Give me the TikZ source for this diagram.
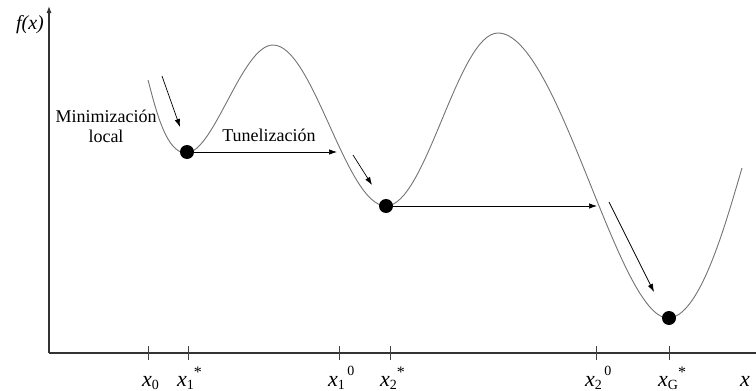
\documentclass[tikz,border=0pt]{standalone}
\usepackage{fontspec}
\setmainfont{Liberation Serif}
\usetikzlibrary{arrows.meta}
\newcommand\xsub[1]{\raisebox{-3pt}{\fontsize{14}{14}\selectfont #1}}
\newcommand\xstar{\raisebox{9pt}{\fontsize{16}{16}\selectfont *}}
\newcommand\xzero{\raisebox{11pt}{\fontsize{14}{14}\selectfont \,0}}
\newcommand\xlab[2]{\fontsize{22}{22}\selectfont\textit{x}\xsub{#1}#2}
\begin{document}
\begin{tikzpicture}[x=1pt,y=-1pt,
  curve/.style={draw=black!55, line width=0.9pt},
  axis/.style={draw=black!80, line width=1.1pt},
  tickmark/.style={draw=black!75, line width=0.8pt},
  arr/.style={draw=black, line width=0.7pt, -{Latex[length=8pt,width=5.5pt]}},
  dot/.style={circle, fill=black, minimum size=14pt, inner sep=0pt},
  lab/.style={font=\fontsize{18}{20}\selectfont, inner sep=0pt},
  xl/.style={anchor=base west, inner sep=0pt}]
\useasboundingbox (0,0) rectangle (756,391);
% axes
\coordinate (O) at (49,353);
\coordinate (ytop) at (49,6);
\coordinate (xend) at (756,353);
\draw[axis, -{Latex[length=7pt,width=5pt]}] (O) -- (ytop);
\draw[axis] (O) -- (xend);
\node[inner sep=0pt, font=\fontsize{20}{20}\selectfont\itshape] (fx) at (30,25) {f(x)};
% ticks
\foreach \t in {148,188,339,390,596,669}
  \draw[tickmark] (\t,346) -- (\t,360);
% tick labels
\node[xl] (l0) at (142,386) {\xlab{0}{}};
\node[xl] (l1) at (177,386) {\xlab{1}{\xstar}};
\node[xl] (l2) at (328,386) {\xlab{1}{\xzero}};
\node[xl] (l3) at (380,386) {\xlab{2}{\xstar}};
\node[xl] (l4) at (585,386) {\xlab{2}{\xzero}};
\node[xl] (l5) at (658,386) {\xlab{G}{\xstar}};
\node[xl] (lx) at (740,386) {\xlab{}{}};
% curve
\draw[curve] (148,80) .. controls (156,110) and (166,153) .. (186,153)
  .. controls (214,153) and (242,45) .. (273,45)
  .. controls (313,45) and (346,206) .. (386,206)
  .. controls (426,206) and (458,33) .. (498,33)
  .. controls (558,33) and (618,318) .. (668,318)
  .. controls (700,318) and (726,222) .. (742,168);
% minima
\node[dot] (m1) at (187,152) {};
\node[dot] (m2) at (386,206) {};
\node[dot] (m3) at (669,318) {};
% tunnelling arrows
\coordinate (t1) at (337,152);
\coordinate (t2) at (597,206);
\draw[arr] (m1) -- (t1);
\draw[arr] (m2) -- (t2);
% local minimisation arrows
\coordinate (a1s) at (162,76);  \coordinate (a1e) at (180,127);
\coordinate (a2s) at (353,155); \coordinate (a2e) at (372,185);
\coordinate (a3s) at (609,202); \coordinate (a3e) at (654,292);
\draw[arr] (a1s) -- (a1e);
\draw[arr] (a2s) -- (a2e);
\draw[arr] (a3s) -- (a3e);
% labels
\node[lab, align=center] (ml) at (106,126) {Minimización\\local};
\node[lab] (tn) at (269,135) {Tunelización};
\end{tikzpicture}
\end{document}
